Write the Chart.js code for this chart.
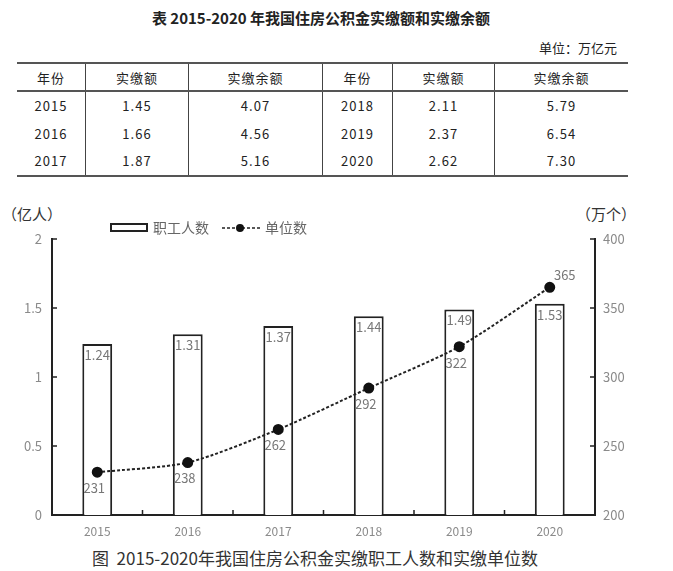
<!DOCTYPE html>
<html>
<head>
<meta charset="utf-8">
<script src="https://cdn.jsdelivr.net/npm/chart.js@4.4.0/dist/chart.umd.min.js"></script>
<style>
  body { margin: 0; background: #fff; font-family: "Noto Sans CJK SC", "Noto Sans", sans-serif; color: #222; }
  #page { position: relative; width: 673px; height: 571px; overflow: hidden; }
  .abs { position: absolute; white-space: nowrap; }
  #tbl { position: absolute; left: 17px; top: 62px; border-collapse: collapse; font-size: 13px; }
  #tbl td { text-align: center; padding: 0; border-left: 1px solid #444; letter-spacing: 1px; }
  #tbl td:first-child { border-left: none; }
  #tbl tr.head td { height: 26px; border-top: 2px solid #555; border-bottom: 2px solid #555; }
  #tbl tr.row td { height: 27.5px; }
  #tbl tr.last td { border-bottom: 2px solid #555; }
  #chart { position: absolute; left: 0; top: 200px; }
</style>
</head>
<body>
<div id="page">
  <div class="abs" style="left:0;width:642px;top:7px;text-align:center;font-size:15px;font-weight:bold;">表 2015-2020 年我国住房公积金实缴额和实缴余额</div>
  <div class="abs" style="right:56px;top:38px;font-size:13px;">单位：万亿元</div>
  <table id="tbl"></table>
  <div class="abs" style="left:2px;top:203px;font-size:15px;color:#333;">（亿人）</div>
  <div class="abs" style="left:576px;top:203px;font-size:15px;color:#333;">（万个）</div>
  <canvas id="chart" width="673" height="345"></canvas>
  <div class="abs" style="left:0;width:630px;top:545px;text-align:center;font-size:17px;color:#333;">图&nbsp;&nbsp;2015-2020年我国住房公积金实缴职工人数和实缴单位数</div>
</div>
<script>
// table data (万亿元)
const years = ['2015', '2016', '2017', '2018', '2019', '2020'];
const paid = [1.45, 1.66, 1.87, 2.11, 2.37, 2.62];
const balance = [4.07, 4.56, 5.16, 5.79, 6.54, 7.30];

// chart data
const staff = [1.24, 1.31, 1.37, 1.44, 1.49, 1.53];   // 亿人
const units = [231, 238, 262, 292, 322, 365];         // 万个
const leftTicks = [0, 0.5, 1, 1.5, 2];
const rightTicks = [200, 250, 300, 350, 400];

// build the table, two years per row
const colW = [68, 102, 133, 69, 101, 133];
const tbl = document.getElementById('tbl');
let html = '<tr class="head">';
['年份', '实缴额', '实缴余额', '年份', '实缴额', '实缴余额'].forEach((h, i) => {
    html += '<td style="width:' + colW[i] + 'px">' + h + '</td>';
});
html += '</tr>';
for (let r = 0; r < 3; r++) {
    html += '<tr class="row' + (r === 2 ? ' last' : '') + '">';
    [r, r + 3].forEach(k => {
        html += '<td>' + years[k] + '</td><td>' + paid[k].toFixed(2) + '</td><td>' + balance[k].toFixed(2) + '</td>';
    });
    html += '</tr>';
}
tbl.innerHTML = html;

const grey = '#8a8a8a';
const fontFam = '"Noto Sans CJK SC", "Noto Sans", sans-serif';

// short tick marks pointing into the plot, value labels and the legend
const extras = {
    id: 'extras',
    afterDraw(chart) {
        const ctx = chart.ctx;
        const area = chart.chartArea;
        const x = chart.scales.x, y = chart.scales.y, y1 = chart.scales.y1;
        ctx.save();
        ctx.strokeStyle = '#222';
        ctx.lineWidth = 1.5;
        ctx.beginPath();
        leftTicks.forEach(v => {
            const p = y.getPixelForValue(v);
            ctx.moveTo(area.left, p); ctx.lineTo(area.left + 5, p);
        });
        rightTicks.forEach(v => {
            const p = y1.getPixelForValue(v);
            ctx.moveTo(area.right - 5, p); ctx.lineTo(area.right, p);
        });
        for (let i = 1; i < years.length; i++) {
            const p = (x.getPixelForValue(i - 1) + x.getPixelForValue(i)) / 2;
            ctx.moveTo(p, area.bottom); ctx.lineTo(p, area.bottom - 5);
        }
        ctx.stroke();

        // value labels
        ctx.fillStyle = '#777';
        ctx.font = '13px ' + fontFam;
        ctx.textAlign = 'center';
        ctx.textBaseline = 'middle';
        chart.getDatasetMeta(0).data.forEach((bar, i) => {
            ctx.fillText(staff[i].toFixed(2), bar.x, bar.y + 11);
        });
        const pts = chart.getDatasetMeta(1).data;
        pts.forEach((pt, i) => {
            if (i === pts.length - 1) ctx.fillText(units[i], pt.x + 15, pt.y - 12);
            else ctx.fillText(units[i], pt.x - 3, pt.y + 16);
        });

        // legend
        ctx.fillStyle = '#fff';
        ctx.strokeStyle = '#222';
        ctx.lineWidth = 2;
        ctx.fillRect(111, 24, 36, 7);
        ctx.strokeRect(111, 24, 36, 7);
        ctx.fillStyle = '#666';
        ctx.font = '14px ' + fontFam;
        ctx.textAlign = 'left';
        ctx.fillText('职工人数', 153, 28);
        ctx.beginPath();
        ctx.setLineDash([3, 2]);
        ctx.lineWidth = 1.5;
        ctx.moveTo(222, 28); ctx.lineTo(261, 28);
        ctx.stroke();
        ctx.setLineDash([]);
        ctx.fillStyle = '#111';
        ctx.beginPath();
        ctx.arc(240, 28, 4, 0, Math.PI * 2);
        ctx.fill();
        ctx.fillStyle = '#666';
        ctx.fillText('单位数', 265, 28);
        ctx.restore();
    }
};

new Chart(document.getElementById('chart'), {
    data: {
        labels: years,
        datasets: [{
            type: 'bar',
            label: '职工人数',
            data: staff,
            yAxisID: 'y',
            backgroundColor: '#fff',
            borderColor: '#222',
            borderWidth: 2,
            barPercentage: 0.33,
            categoryPercentage: 1,
            order: 1
        }, {
            type: 'line',
            label: '单位数',
            data: units,
            yAxisID: 'y1',
            borderColor: '#222',
            borderWidth: 2,
            borderDash: [3, 2],
            tension: 0.25,
            pointRadius: 4.5,
            pointBackgroundColor: '#111',
            pointBorderColor: '#111',
            order: 0
        }]
    },
    options: {
        responsive: false,
        animation: false,
        layout: { padding: { top: 39, left: 0, right: 0 } },
        plugins: { legend: { display: false }, tooltip: { enabled: false } },
        scales: {
            x: {
                offset: true,
                grid: { display: false, drawTicks: false },
                border: { color: '#222', width: 2 },
                ticks: { color: grey, font: { size: 12, family: fontFam }, padding: 9 },
                afterFit(s) { s.height = 30; }
            },
            y: {
                position: 'left',
                min: 0, max: 2,
                grid: { display: false, drawTicks: false },
                border: { color: '#222', width: 2 },
                ticks: {
                    stepSize: 0.5, color: grey, font: { size: 13, family: fontFam }, padding: 10,
                    callback: v => String(v)
                },
                afterFit(s) { s.width = 52; }
            },
            y1: {
                position: 'right',
                min: 200, max: 400,
                grid: { display: false, drawTicks: false },
                border: { color: '#222', width: 2 },
                ticks: { stepSize: 50, color: grey, font: { size: 13, family: fontFam }, padding: 8 },
                afterFit(s) { s.width = 78; }
            }
        }
    },
    plugins: [extras]
});
</script>
</body>
</html>
